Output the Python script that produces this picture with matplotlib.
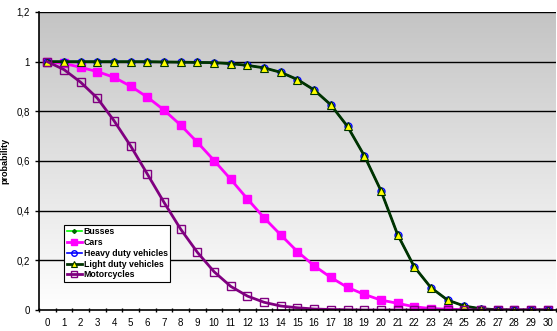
import numpy as np
import matplotlib
matplotlib.use("Agg")
import matplotlib.pyplot as plt
from matplotlib.ticker import FuncFormatter, MultipleLocator

plt.rcParams['font.family'] = ['Liberation Sans', 'DejaVu Sans']

# age in years
years = list(range(31))

# survival probability per vehicle type
light_duty = [1, 1, 1, 1, 1, 1, 1, 0.999, 0.998, 0.997, 0.996, 0.992, 0.985,
              0.975, 0.957, 0.928, 0.886, 0.826, 0.739, 0.622, 0.481, 0.304,
              0.174, 0.090, 0.040, 0.016, 0.005, 0.001, 0, 0, 0]
busses = list(light_duty)
heavy_duty = list(light_duty)
cars = [1, 0.993, 0.977, 0.960, 0.937, 0.901, 0.857, 0.805, 0.744, 0.675,
        0.602, 0.526, 0.447, 0.371, 0.302, 0.235, 0.178, 0.131, 0.091, 0.063,
        0.040, 0.027, 0.013, 0.006, 0.003, 0.001, 0, 0, 0, 0, 0]
motorcycles = [1, 0.968, 0.917, 0.853, 0.762, 0.660, 0.547, 0.433, 0.325,
               0.232, 0.154, 0.095, 0.056, 0.031, 0.016, 0.009, 0.004, 0.002,
               0.001, 0, 0, 0, 0, 0, 0, 0, 0, 0, 0, 0, 0]

fig = plt.figure(figsize=(5.57, 3.31), dpi=100)
ax = fig.add_axes([39/557, 1 - 310/331, 517/557, 298/331])

# grey-to-white background of the plot area
grad = np.linspace(0, 1, 256).reshape(-1, 1)
ax.imshow(grad, cmap=matplotlib.colors.LinearSegmentedColormap.from_list(
    'bg', ['#ffffff', '#c4c4c4']), aspect='auto', origin='lower',
    extent=[0, 1, 0, 1], transform=ax.transAxes, zorder=0)

for v in np.arange(0.2, 1.21, 0.2):
    ax.axhline(v, color='black', lw=1.0, zorder=1)

ax.plot(years, busses, color='#00ff00', lw=1.2, marker='D', ms=2.5,
        mfc='#006600', mec='#006600', label='Busses', zorder=3)
ax.plot(years, cars, color='#ff00ff', lw=2, marker='s', ms=5.5,
        mfc='#ff00ff', mec='#ff00ff', label='Cars', zorder=3)
ax.plot(years, heavy_duty, color='#0000ff', lw=1.2, marker='o', ms=5,
        mfc='none', mec='#0000ff', label='Heavy duty vehicles', zorder=3)
ax.plot(years, light_duty, color='#003300', lw=2, marker='^', ms=5.5,
        mfc='#ffff00', mec='#003300', mew=0.8, label='Light duty vehicles', zorder=3)
ax.plot(years, motorcycles, color='#800080', lw=2, marker='s', ms=6,
        mfc='none', mec='#800080', mew=1, label='Motorcycles', zorder=4)

ax.set_xlim(-0.5, 30.5)
ax.set_ylim(0, 1.2)
ax.set_xticks(years)
ax.set_xticklabels([str(y) for y in years])
ax.xaxis.set_minor_locator(MultipleLocator(1, offset=0.5))
ax.tick_params(axis='x', which='major', length=0, labelsize=7, pad=6)
ax.tick_params(axis='x', which='minor', length=3, direction='inout', width=1)
ax.yaxis.set_major_locator(MultipleLocator(0.2))
ax.yaxis.set_major_formatter(FuncFormatter(
    lambda v, p: ('%g' % round(v, 1)).replace('.', ',')))
ax.tick_params(axis='y', length=3, width=1, labelsize=7, direction='out')
ax.set_ylabel('probability', fontsize=6.5, fontweight='bold', labelpad=5)

for s in ('top', 'right'):
    ax.spines[s].set_visible(False)
for s in ('left', 'bottom'):
    ax.spines[s].set_linewidth(1.2)
    ax.spines[s].set_zorder(5)

leg = ax.legend(loc='lower left', bbox_to_anchor=(25/517, 28/298),
                prop={'size': 6.3, 'weight': 'bold'}, frameon=True, fancybox=False,
                framealpha=1, edgecolor='black', borderpad=0.3, labelspacing=0.2,
                handlelength=1.7, handletextpad=0.25, borderaxespad=0,
                markerscale=0.8)
leg.get_frame().set_linewidth(0.8)
leg.set_zorder(6)

fig.savefig('out.png', dpi=100)
